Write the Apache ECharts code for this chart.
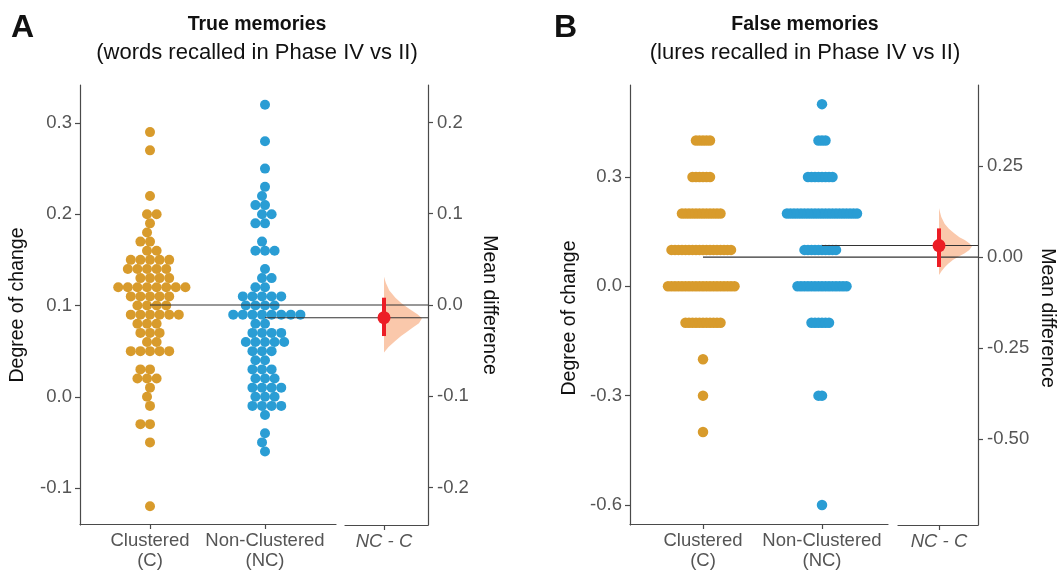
<!DOCTYPE html>
<html><head><meta charset="utf-8">
<script src="https://cdn.jsdelivr.net/npm/echarts@6/dist/echarts.min.js"></script>
<style>html,body{margin:0;padding:0;background:#fff}#c{width:1059px;height:571px}</style>
</head><body><div id="c"></div>
<script>
// ================= DATA =================
const groupNames = ['Clustered', 'Non-Clustered'];
const groupAbbr = ['C', 'NC'];
const diffName = 'NC - C';
const panelLetters = ['A', 'B'];
const panelTitles = ['True memories', 'False memories'];
const panelSubtitles = ['(words recalled in Phase IV vs II)', '(lures recalled in Phase IV vs II)'];
const leftAxisName = 'Degree of change';
const rightAxisName = 'Mean difference';

// Panel A: degree of change, true memories
const trueC = [0.29, 0.27, 0.22, 0.20, 0.20, 0.19, 0.18, 0.17, 0.17, 0.16, 0.16,
  0.15, 0.15, 0.15, 0.15, 0.15, 0.14, 0.14, 0.14, 0.14, 0.14, 0.13, 0.13, 0.13, 0.13,
  0.12, 0.12, 0.12, 0.12, 0.12, 0.12, 0.12, 0.12, 0.11, 0.11, 0.11, 0.11, 0.11,
  0.10, 0.10, 0.10, 0.10, 0.09, 0.09, 0.09, 0.09, 0.09, 0.09, 0.08, 0.08, 0.08,
  0.07, 0.07, 0.07, 0.06, 0.06, 0.05, 0.05, 0.05, 0.05, 0.05, 0.03, 0.03,
  0.02, 0.02, 0.02, 0.01, 0.00, -0.01, -0.03, -0.03, -0.05, -0.12];
const trueNC = [0.32, 0.28, 0.25, 0.23, 0.22, 0.21, 0.21, 0.20, 0.20, 0.19, 0.19, 0.17,
  0.16, 0.16, 0.16, 0.14, 0.13, 0.13, 0.12, 0.12, 0.11, 0.11, 0.11, 0.11, 0.11,
  0.10, 0.10, 0.10, 0.10, 0.09, 0.09, 0.09, 0.09, 0.09, 0.09, 0.09, 0.09, 0.08, 0.08,
  0.07, 0.07, 0.07, 0.07, 0.06, 0.06, 0.06, 0.06, 0.06, 0.05, 0.05, 0.05, 0.04, 0.04,
  0.03, 0.03, 0.03, 0.02, 0.02, 0.02, 0.01, 0.01, 0.01, 0.01, 0.00, 0.00, 0.00,
  -0.01, -0.01, -0.01, -0.01, -0.02, -0.04, -0.05, -0.06];
// Panel B: degree of change, false memories
const falseC = [0.4, 0.4, 0.4, 0.4, 0.4,
  0.3, 0.3, 0.3, 0.3, 0.3, 0.3,
  0.2, 0.2, 0.2, 0.2, 0.2, 0.2, 0.2, 0.2, 0.2, 0.2, 0.2, 0.2,
  0.1, 0.1, 0.1, 0.1, 0.1, 0.1, 0.1, 0.1, 0.1, 0.1, 0.1, 0.1, 0.1, 0.1, 0.1, 0.1, 0.1, 0.1,
  0.0, 0.0, 0.0, 0.0, 0.0, 0.0, 0.0, 0.0, 0.0, 0.0, 0.0, 0.0, 0.0, 0.0, 0.0, 0.0, 0.0, 0.0, 0.0, 0.0,
  -0.1, -0.1, -0.1, -0.1, -0.1, -0.1, -0.1, -0.1, -0.1, -0.1, -0.1,
  -0.2, -0.3, -0.4];
const falseNC = [0.5, 0.4, 0.4, 0.4,
  0.3, 0.3, 0.3, 0.3, 0.3, 0.3, 0.3, 0.3,
  0.2, 0.2, 0.2, 0.2, 0.2, 0.2, 0.2, 0.2, 0.2, 0.2, 0.2, 0.2, 0.2, 0.2, 0.2, 0.2, 0.2, 0.2, 0.2, 0.2, 0.2,
  0.1, 0.1, 0.1, 0.1, 0.1, 0.1, 0.1, 0.1, 0.1, 0.1,
  0.0, 0.0, 0.0, 0.0, 0.0, 0.0, 0.0, 0.0, 0.0, 0.0, 0.0, 0.0, 0.0, 0.0, 0.0,
  -0.1, -0.1, -0.1, -0.1, -0.1, -0.1,
  -0.3, -0.3, -0.6];

// 95% CI of mean difference (NC - C)
const trueCI = [-0.034, 0.008];
const falseCI = [-0.027, 0.079];
// bootstrap distribution outline: mean-difference value and relative half-width
const trueViolinY = [0.031, 0.024, 0.016, 0.008, 0.002, -0.004, -0.010, -0.0145, -0.020, -0.025, -0.030, -0.034, -0.040, -0.046, -0.052];
const trueViolinW = [0.0, 0.05, 0.14, 0.30, 0.46, 0.66, 0.88, 1.0, 0.92, 0.75, 0.58, 0.45, 0.28, 0.12, 0.0];
const falseViolinY = [0.134, 0.110, 0.092, 0.078, 0.065, 0.055, 0.047, 0.038, 0.030, 0.020, 0.011, 0.002, -0.008, -0.018, -0.027, -0.038, -0.049];
const falseViolinW = [0.0, 0.07, 0.17, 0.30, 0.47, 0.62, 0.78, 0.92, 1.0, 0.92, 0.78, 0.60, 0.42, 0.28, 0.18, 0.08, 0.0];

// tick labels
const trueLeftTicks = [-0.1, 0.0, 0.1, 0.2, 0.3];
const trueRightTicks = [-0.2, -0.1, 0.0, 0.1, 0.2];
const falseLeftTicks = [-0.6, -0.3, 0.0, 0.3];
const falseRightTicks = [-0.50, -0.25, 0.00, 0.25];

// ================= LAYOUT / STYLE =================
const FONT = '"Liberation Sans", Arial, sans-serif';
const COL_C = '#D89B2C';
const COL_NC = '#2A9DD4';
const COL_RED = '#EC1D25';
const COL_VIOLIN = '#F9C2A2';
const AXIS_COL = '#4a4a4a';
const LABEL_COL = '#555555';
const TICK_FS = 18.5;

const layouts = [
  { left: 80, top: 85, width: 348, height: 440, bottomEnd: 336, estStart: 345,
    pxC: 150, pxNC: 265, pxDiff: 384, yMin: -0.1405, yMax: 0.3416,
    dot: 10, collide: 9.6, violinMaxPx: 38,
    c: trueC, nc: trueNC, ci: trueCI, vy: trueViolinY, vw: trueViolinW,
    lt: trueLeftTicks, rt: trueRightTicks, ld: 1, rd: 1, nameY: 305, leftNameX: 18, rightNameX: 489,
    letterX: 11, titleX: 257 },
  { left: 630, top: 85, width: 348, height: 440, bottomEnd: 888, estStart: 898,
    pxC: 703, pxNC: 822, pxDiff: 939, yMin: -0.655, yMax: 0.5525,
    dot: 10.5, collide: 3.5, violinMaxPx: 33,
    c: falseC, nc: falseNC, ci: falseCI, vy: falseViolinY, vw: falseViolinW,
    lt: falseLeftTicks, rt: falseRightTicks, ld: 1, rd: 2, nameY: 318, leftNameX: 570, rightNameX: 1047,
    letterX: 554, titleX: 805 }
];

const mean = a => a.reduce((s, v) => s + v, 0) / a.length;

// beeswarm layout (pixel space) -> x offsets
function swarm(values, pxPerY, D) {
  const pts = values.map(v => ({ v, y: v * pxPerY, x: 0 }));
  const order = pts.slice().sort((a, b) => a.y - b.y);
  const placed = [];
  for (const p of order) {
    const near = placed.filter(q => Math.abs(q.y - p.y) < D);
    const cands = [0];
    for (const q of near) {
      const dx = Math.sqrt(D * D - (q.y - p.y) ** 2);
      cands.push(q.x + dx, q.x - dx);
    }
    cands.sort((a, b) => (Math.abs(a) - Math.abs(b)) || (a - b));
    for (const c of cands) {
      if (near.every(q => (q.x - c) ** 2 + (q.y - p.y) ** 2 >= D * D - 1e-6)) { p.x = c; break; }
    }
    placed.push(p);
  }
  return pts;
}

const grids = [], xAxes = [], yAxes = [], series = [], graphics = [];

const axisBase = {
  axisLine: { show: true, lineStyle: { color: AXIS_COL, width: 1.2 } },
  axisTick: { show: true, length: 5, lineStyle: { color: AXIS_COL, width: 1.2 } },
  splitLine: { show: false }
};

layouts.forEach((L, pi) => {
  const xScale = L.pxNC - L.pxC;          // px per x unit
  const xMin = 1 - (L.pxC - L.left) / xScale;
  const xMax = xMin + L.width / xScale;
  const posC = 1, posNC = 2;
  const posDiff = 1 + (L.pxDiff - L.pxC) / xScale;
  const mC = mean(L.c), mNC = mean(L.nc), diff = mNC - mC;
  const pxPerY = L.height / (L.yMax - L.yMin);

  const g0 = grids.length;
  grids.push({ left: L.left, top: L.top, width: L.width, height: L.height });
  grids.push({ left: L.left, top: L.top, width: L.bottomEnd - L.left, height: L.height });
  grids.push({ left: L.estStart, top: L.top, width: L.left + L.width - L.estStart, height: L.height });

  const x0 = xAxes.length;
  xAxes.push({ gridIndex: g0, type: 'value', min: xMin, max: xMax, show: false });
  xAxes.push(Object.assign({}, axisBase, {
    gridIndex: g0 + 1, type: 'value', min: xMin, max: xMin + (L.bottomEnd - L.left) / xScale,
    axisTick: Object.assign({}, axisBase.axisTick, { customValues: [posC, posNC] }),
    axisLabel: { customValues: [posC, posNC], color: LABEL_COL, fontSize: TICK_FS, fontFamily: FONT, lineHeight: 20, margin: 7,
      formatter: v => { const i = v < 1.5 ? 0 : 1; return groupNames[i] + '\n(' + groupAbbr[i] + ')'; } }
  }));
  const eMin = xMin + (L.estStart - L.left) / xScale;
  xAxes.push(Object.assign({}, axisBase, {
    gridIndex: g0 + 2, type: 'value', min: eMin, max: xMax,
    axisTick: Object.assign({}, axisBase.axisTick, { customValues: [posDiff] }),
    axisLabel: { customValues: [posDiff], color: LABEL_COL, fontSize: TICK_FS, fontFamily: FONT, fontStyle: 'italic', margin: 7,
      formatter: () => diffName }
  }));

  const y0 = yAxes.length;
  yAxes.push(Object.assign({}, axisBase, {
    gridIndex: g0, type: 'value', position: 'left', min: L.yMin, max: L.yMax,
    axisTick: Object.assign({}, axisBase.axisTick, { customValues: L.lt }),
    axisLabel: { customValues: L.lt, color: LABEL_COL, fontSize: TICK_FS, fontFamily: FONT, margin: 8,
      formatter: v => v.toFixed(L.ld) }
  }));
  yAxes.push(Object.assign({}, axisBase, {
    gridIndex: g0, type: 'value', position: 'right', min: L.yMin - mC, max: L.yMax - mC,
    axisTick: Object.assign({}, axisBase.axisTick, { customValues: L.rt }),
    axisLabel: { customValues: L.rt, color: LABEL_COL, fontSize: TICK_FS, fontFamily: FONT, margin: 9,
      formatter: v => v.toFixed(L.rd) }
  }));
  yAxes.push({ gridIndex: g0 + 1, type: 'value', min: 0, max: 1, show: false });
  yAxes.push({ gridIndex: g0 + 2, type: 'value', min: 0, max: 1, show: false });

  // swarms
  [[L.c, posC, COL_C], [L.nc, posNC, COL_NC]].forEach(([vals, pos, col]) => {
    const pts = swarm(vals, pxPerY, L.collide);
    series.push({
      type: 'scatter', xAxisIndex: x0, yAxisIndex: y0, symbolSize: L.dot, silent: true,
      itemStyle: { color: col, opacity: 1 },
      data: pts.map(p => [pos + p.x / xScale, p.v]), z: 2
    });
  });
  // mean lines
  [[mC, posC], [mNC, posNC]].forEach(([m, pos]) => {
    series.push({
      type: 'line', xAxisIndex: x0, yAxisIndex: y0, symbol: 'none', silent: true,
      lineStyle: { color: '#333', width: 1.1 }, data: [[pos, m], [xMax, m]], z: 5
    });
  });
  // bootstrap half violin
  const vMaxUnits = L.violinMaxPx / xScale;
  series.push({
    type: 'custom', xAxisIndex: x0, yAxisIndex: y0 + 1, silent: true, z: 3,
    data: [[posDiff, diff]],
    renderItem: (params, api) => {
      const pts = L.vy.map((yv, i) => api.coord([posDiff + L.vw[i] * vMaxUnits, yv]));
      pts.push(api.coord([posDiff, L.vy[L.vy.length - 1]]));
      pts.push(api.coord([posDiff, L.vy[0]]));
      return { type: 'polygon', shape: { points: pts }, style: { fill: COL_VIOLIN, opacity: 0.9 } };
    }
  });
  // CI bar
  series.push({
    type: 'line', xAxisIndex: x0, yAxisIndex: y0 + 1, symbol: 'none', silent: true, z: 6,
    lineStyle: { color: COL_RED, width: 4 }, data: [[posDiff, L.ci[0]], [posDiff, L.ci[1]]]
  });
  // mean difference point
  series.push({
    type: 'scatter', xAxisIndex: x0, yAxisIndex: y0 + 1, symbolSize: 13, silent: true, z: 7,
    itemStyle: { color: COL_RED, opacity: 1 }, data: [[posDiff, diff]]
  });

  // texts
  graphics.push({ type: 'text', x: L.letterX, y: 28, style: { text: panelLetters[pi], font: 'bold 32px ' + FONT, fill: '#111', textVerticalAlign: 'middle' } });
  graphics.push({ type: 'text', x: L.titleX, y: 25, style: { text: panelTitles[pi], font: 'bold 19.5px ' + FONT, fill: '#111', textAlign: 'center', textVerticalAlign: 'middle' } });
  graphics.push({ type: 'text', x: L.titleX, y: 53, style: { text: panelSubtitles[pi], font: '22px ' + FONT, fill: '#111', textAlign: 'center', textVerticalAlign: 'middle' } });
  graphics.push({ type: 'text', x: L.leftNameX, y: L.nameY, rotation: Math.PI / 2, style: { text: leftAxisName, font: '19.5px ' + FONT, fill: '#111', textAlign: 'center', textVerticalAlign: 'middle' } });
  graphics.push({ type: 'text', x: L.rightNameX, y: L.nameY, rotation: -Math.PI / 2, style: { text: rightAxisName, font: '19.5px ' + FONT, fill: '#111', textAlign: 'center', textVerticalAlign: 'middle' } });
});

const chart = echarts.init(document.getElementById('c'), null, { renderer: 'canvas' });
chart.setOption({
  animation: false,
  backgroundColor: '#ffffff',
  textStyle: { fontFamily: FONT },
  grid: grids, xAxis: xAxes, yAxis: yAxes, series: series, graphic: graphics
});
</script></body></html>
